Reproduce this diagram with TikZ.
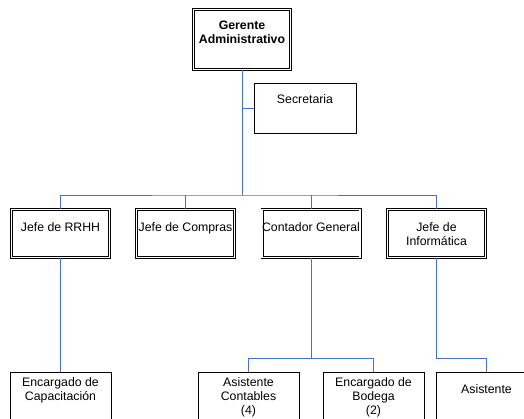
\documentclass[tikz,border=0pt]{standalone}
\usepackage{fontspec}
\setmainfont{Liberation Sans}
\usetikzlibrary{positioning}

\definecolor{linea}{RGB}{68,114,196}

\tikzset{
  cargo/.style={draw, double, line width=0.8pt, double distance=1.4pt,
    minimum width=98pt, minimum height=48pt, inner sep=0pt},
  puesto/.style={draw, line width=0.7pt, minimum width=101pt,
    minimum height=50pt, inner sep=0pt},
  rotulo/.style={anchor=north, align=center, yshift=#1,
    font=\fontsize{12.3}{14}\selectfont},
  rotulo/.default=-10.2pt,
  enlace/.style={draw=linea, line width=0.8pt},
}

\begin{document}
\begin{tikzpicture}[x=1pt, y=-1pt]
  \useasboundingbox (0,0) rectangle (524,418);

  % nivel superior
  \node[cargo, minimum width=97pt, minimum height=60pt,
    label={[rotulo=-8.2pt, font=\fontsize{12.3}{14}\selectfont\bfseries]north:Gerente\\Administrativo}]
    (gerente) at (242,39.5) {};
  \node[puesto, minimum width=102pt,
    label={[rotulo=-8.2pt]north:Secretaria}] (secretaria) at (305,108) {};

  % jefaturas
  \node[cargo, label={[rotulo]north:Jefe de RRHH}] (rrhh) at (60.5,233.5) {};
  \node[cargo, label={[rotulo]north:Jefe de Compras}] (compras) at (185.5,233.5) {};
  \node[cargo, label={[rotulo]north:Contador General}] (contador) at (311,233.5) {};
  \node[cargo, label={[rotulo]north:Jefe de\\Inform\'atica}] (informatica) at (436.5,233.5) {};

  % personal de apoyo
  \node[puesto, minimum height=51pt,
    label={[rotulo=-2.2pt]north:Encargado de\\Capacitaci\'on}] (capacitacion) at (60.5,397.5) {};
  \node[puesto, minimum height=51pt,
    label={[rotulo=-2.2pt]north:Asistente\\Contables\\(4)}] (contables) at (248.5,397.5) {};
  \node[puesto, minimum height=51pt,
    label={[rotulo=-2.2pt]north:Encargado de\\Bodega\\(2)}] (bodega) at (373.5,397.5) {};
  \node[puesto, minimum height=51pt,
    label={[rotulo=-9.2pt]north:Asistente}] (asistente) at (486.5,397.5) {};

  \coordinate (bus) at (242,195);
  \coordinate (buscont) at (311,358.5);
  \coordinate (businf) at (436.5,358.5);

  % conexiones
  \draw[enlace] (gerente.south) -- (bus);
  \draw[enlace] (secretaria.west) -- (secretaria.west -| gerente.south);
  \draw[enlace] (rrhh.north) |- (bus) -| (informatica.north);
  \draw[enlace] (compras.north) -- (compras.north |- bus);
  \draw[enlace] (contador.north) -- (contador.north |- bus);
  \draw[enlace] (rrhh.south) -- (capacitacion.north);
  \draw[enlace] (contador.south) -- (buscont);
  \draw[enlace] (contables.north) |- (buscont) -| (bodega.north);
  \draw[enlace] (informatica.south) |- (businf) -| (asistente.north);
\end{tikzpicture}
\end{document}
